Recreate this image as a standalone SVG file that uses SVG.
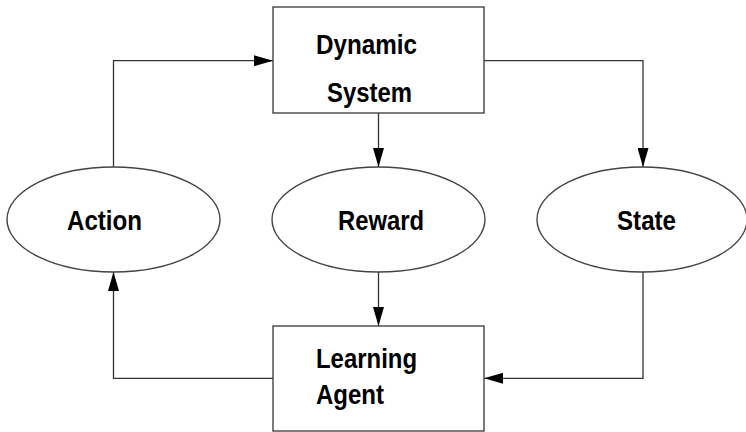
<svg xmlns="http://www.w3.org/2000/svg" width="746" height="432" viewBox="0 0 746 432">
  <defs>
    <marker id="arrow" viewBox="0 0 19 11" refX="19" refY="5.5" markerWidth="19" markerHeight="11" markerUnits="userSpaceOnUse" orient="auto">
      <path d="M0,0 L19,5.5 L0,11 Z" fill="#000"/>
    </marker>
    <style>
      .shape { fill: #fff; stroke: #444; stroke-width: 1.4; }
      .wire { fill: none; stroke: #333; stroke-width: 1.3; }
      .label { font-family: "Liberation Sans", Arial, Helvetica, sans-serif; font-weight: bold; font-size: 28px; fill: #000; }
    </style>
  </defs>
  <rect width="746" height="432" fill="#fff"/>

  <g id="connectors">
    <!-- Action -> Dynamic System -->
    <path class="wire" d="M113.5,167 V60.7 H273" marker-end="url(#arrow)"/>
    <!-- Dynamic System -> State -->
    <path class="wire" d="M484,60.7 H643 V167" marker-end="url(#arrow)"/>
    <!-- Dynamic System -> Reward -->
    <path class="wire" d="M378.5,113 V167" marker-end="url(#arrow)"/>
    <!-- Reward -> Learning Agent -->
    <path class="wire" d="M378.5,272 V326" marker-end="url(#arrow)"/>
    <!-- State -> Learning Agent -->
    <path class="wire" d="M643,272 V378.3 H484" marker-end="url(#arrow)"/>
    <!-- Learning Agent -> Action -->
    <path class="wire" d="M273,378.3 H113.5 V272" marker-end="url(#arrow)"/>
  </g>

  <g id="dynamic-system">
    <rect class="shape" x="273" y="7" width="211" height="106"/>
    <text class="label" x="316" y="54" textLength="101" lengthAdjust="spacingAndGlyphs">Dynamic</text>
    <text class="label" x="327" y="102" textLength="85" lengthAdjust="spacingAndGlyphs">System</text>
  </g>

  <g id="action">
    <ellipse class="shape" cx="113.5" cy="219.5" rx="106.5" ry="52.5"/>
    <text class="label" x="67" y="230" textLength="75" lengthAdjust="spacingAndGlyphs">Action</text>
  </g>

  <g id="reward">
    <ellipse class="shape" cx="378.5" cy="219.5" rx="106.5" ry="52.5"/>
    <text class="label" x="338" y="230" textLength="86" lengthAdjust="spacingAndGlyphs">Reward</text>
  </g>

  <g id="state">
    <ellipse class="shape" cx="642" cy="219.5" rx="105" ry="52.5"/>
    <text class="label" x="617" y="230" textLength="59" lengthAdjust="spacingAndGlyphs">State</text>
  </g>

  <g id="learning-agent">
    <rect class="shape" x="273" y="326" width="211" height="105"/>
    <text class="label" x="316" y="368" textLength="101" lengthAdjust="spacingAndGlyphs">Learning</text>
    <text class="label" x="316" y="404" textLength="68" lengthAdjust="spacingAndGlyphs">Agent</text>
  </g>
</svg>
